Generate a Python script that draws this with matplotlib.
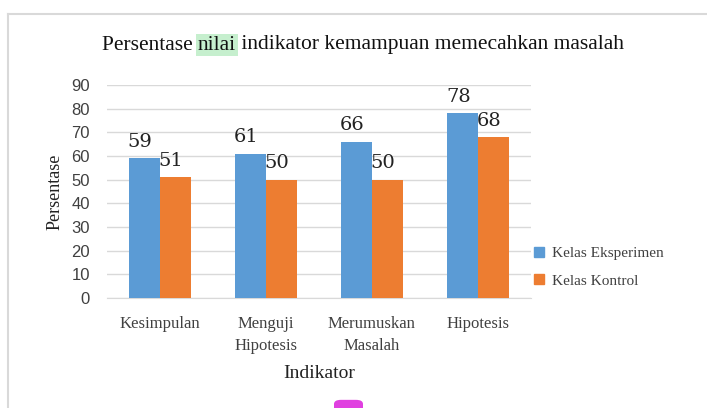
import matplotlib
matplotlib.use("Agg")
import numpy as np
import matplotlib.pyplot as plt
from matplotlib.patches import FancyBboxPatch
from matplotlib.lines import Line2D

categories = ["Kesimpulan", "Menguji\nHipotesis", "Merumuskan\nMasalah", "Hipotesis"]
eksperimen = [59, 61, 66, 78]
kontrol = [51, 50, 50, 68]
series_names = ["Kelas Eksperimen", "Kelas Kontrol"]
yticks = list(range(0, 100, 10))

blue = "#5b9bd5"
orange = "#ed7d31"
serif = "Liberation Serif"

fig = plt.figure(figsize=(7.07, 4.08), dpi=100, facecolor="white")
ax = fig.add_axes([0.151, 0.2696, 0.6, 0.522])

x = np.arange(len(categories))
w = 0.29
b1 = ax.bar(x - w / 2, eksperimen, w, color=blue, label=series_names[0], zorder=3)
b2 = ax.bar(x + w / 2, kontrol, w, color=orange, label=series_names[1], zorder=3)

for bars in (b1, b2):
    for r in bars:
        ax.text(r.get_x() + r.get_width() / 2 - 0.04, r.get_height() + 3.2,
                f"{int(r.get_height())}", ha="center", va="bottom",
                fontsize=14, family="DejaVu Serif", color="#222222", zorder=4)

ax.set_xlim(-0.5, len(categories) - 0.5)
ax.set_ylim(0, 90)
ax.set_yticks(yticks)
ax.set_yticklabels([str(t) for t in yticks], family="Liberation Sans", fontsize=12, color="#404040")
ax.set_xticks(x)
ax.set_xticklabels(categories, family=serif, fontsize=12, color="#404040", linespacing=1.5)
ax.tick_params(axis="y", length=0, pad=12)
ax.tick_params(axis="x", length=0, pad=13)
ax.grid(axis="y", color="#d9d9d9", linewidth=1, zorder=0)
for s in ["top", "right", "left"]:
    ax.spines[s].set_visible(False)
ax.spines["bottom"].set_color("#d9d9d9")

ax.set_ylabel("Persentase", family=serif, fontsize=13, color="#222222", labelpad=6)
ax.set_xlabel("Indikator", family=serif, fontsize=14, color="#222222", labelpad=8)

handles = [Line2D([], [], marker="s", linestyle="", markersize=7, color=c) for c in (blue, orange)]
fig.legend(handles, series_names, loc="center left", bbox_to_anchor=(0.722, 0.345),
           frameon=False, prop={"family": serif, "size": 11}, handletextpad=-0.2,
           labelspacing=0.9, labelcolor="#404040")

# title in three pieces so "nilai" can have its highlight
fig.canvas.draw()
renderer = fig.canvas.get_renderer()
pieces = ["Persentase ", "nilai", " indikator kemampuan memecahkan masalah"]
tmp = [fig.text(0, 0, p, family=serif, fontsize=15.5) for p in pieces]
widths = [t.get_window_extent(renderer).width for t in tmp]
for t in tmp:
    t.remove()
total = sum(widths)
xpos = 363 - total / 2
ty = 1 - 45 / 408
for p, wd in zip(pieces, widths):
    kw = {}
    if p == "nilai":
        kw["bbox"] = dict(boxstyle="square,pad=0.08", facecolor="#c6efce", edgecolor="none")
    fig.text(xpos / 707, ty, p, family=serif, fontsize=15.5, color="#111111",
             va="center", ha="left", **kw)
    xpos += wd

# outer frame of the chart box
fig.add_artist(Line2D([8 / 707, 8 / 707], [0, 1 - 14 / 408], color="#d9d9d9", linewidth=1.5))
fig.add_artist(Line2D([8 / 707, 1], [1 - 14 / 408, 1 - 14 / 408], color="#d9d9d9", linewidth=1.5))

# small magenta marker at bottom
fig.add_artist(FancyBboxPatch((334 / 707, -0.01), 29 / 707, 0.03,
                              boxstyle="round,pad=0,rounding_size=0.01",
                              facecolor="#e040e0", edgecolor="none",
                              transform=fig.transFigure))

fig.savefig("out.png", dpi=100)
